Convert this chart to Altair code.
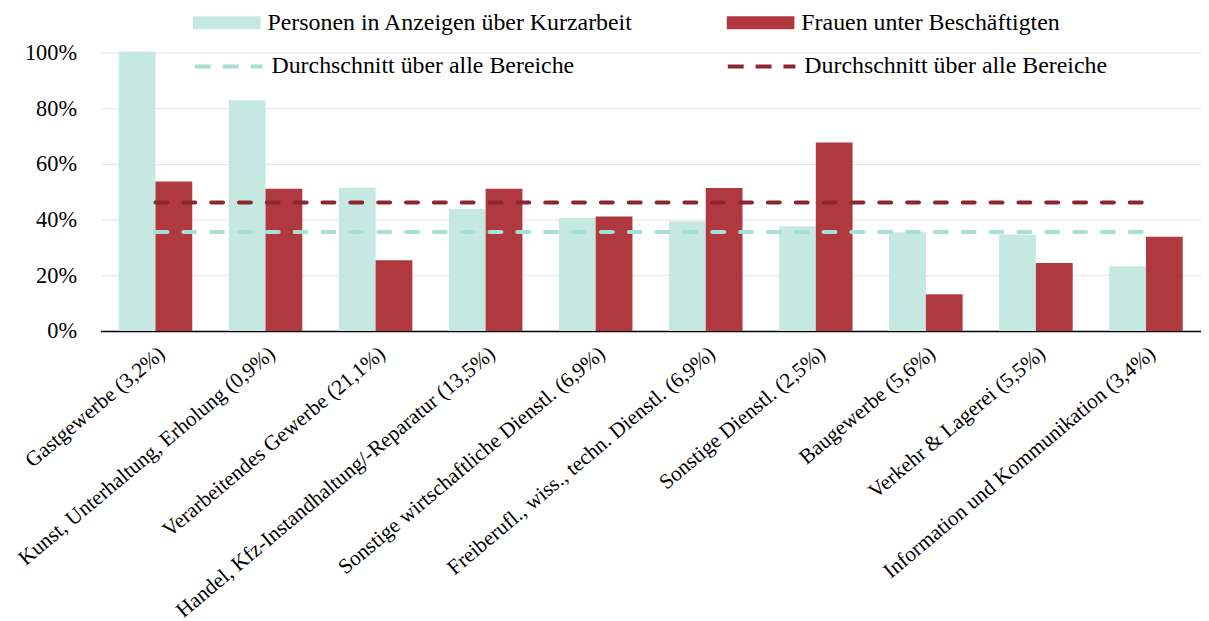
import altair as alt
import pandas as pd

categories = [
    "Gastgewerbe (3,2%)",
    "Kunst, Unterhaltung, Erholung (0,9%)",
    "Verarbeitendes Gewerbe (21,1%)",
    "Handel, Kfz-Instandhaltung/-Reparatur (13,5%)",
    "Sonstige wirtschaftliche Dienstl. (6,9%)",
    "Freiberufl., wiss., techn. Dienstl. (6,9%)",
    "Sonstige Dienstl. (2,5%)",
    "Baugewerbe (5,6%)",
    "Verkehr & Lagerei (5,5%)",
    "Information und Kommunikation (3,4%)",
]
kurzarbeit = [100.4, 82.9, 51.4, 43.8, 40.6, 39.4, 37.6, 35.4, 34.6, 23.2]
frauen = [53.7, 51.1, 25.4, 51.1, 41.1, 51.3, 67.7, 13.2, 24.4, 33.8]
avg_kurzarbeit = 35.5
avg_frauen = 46.1

series_names = ["Personen in Anzeigen über Kurzarbeit", "Frauen unter Beschäftigten"]
avg_keys = ["avg_k", "avg_f"]
bar_colors = ["#c5e8e1", "#b0393f"]
line_colors = ["#a8dfd3", "#8b2630"]

FONT = "Liberation Serif"

rows = []
for c, k, f in zip(categories, kurzarbeit, frauen):
    rows.append({"cat": c, "series": series_names[0], "value": k / 100})
    rows.append({"cat": c, "series": series_names[1], "value": f / 100})
bars_df = pd.DataFrame(rows)

avg_df = pd.DataFrame({
    "key": avg_keys,
    "value": [avg_kurzarbeit / 100, avg_frauen / 100],
    "start": [categories[0]] * 2,
    "end": [categories[-1]] * 2,
})

xscale = alt.Scale(domain=categories, paddingInner=0.332, paddingOuter=0.166)
yscale = alt.Scale(domain=[0, 1], nice=False)

bars = alt.Chart(bars_df).mark_bar().encode(
    x=alt.X("cat:N", scale=xscale, sort=None, title=None,
            axis=alt.Axis(labelAngle=-40, labelAlign="right", labelBaseline="middle",
                          labelFont=FONT, labelFontSize=21.4, labelColor="black",
                          labelPadding=20, labelOffset=7, ticks=False, domainColor="black",
                          domainWidth=1.5, labelLimit=600, grid=False)),
    xOffset=alt.XOffset("series:N", sort=series_names,
                        scale=alt.Scale(domain=series_names, paddingInner=0, paddingOuter=0)),
    y=alt.Y("value:Q", scale=yscale, title=None,
            axis=alt.Axis(values=[0, 0.2, 0.4, 0.6, 0.8, 1.0], format=".0%",
                          labelFont=FONT, labelFontSize=22.5, labelColor="black",
                          labelPadding=24, ticks=False, domain=False,
                          gridColor="#e4e4e4", gridWidth=1)),
    fill=alt.Fill("series:N", sort=series_names,
                  scale=alt.Scale(domain=series_names, range=bar_colors),
                  legend=alt.Legend(title=None, orient="none", legendX=93, legendY=-64,
                                    direction="horizontal",
                                    symbolType="M-1,-0.19H1V0.19H-1Z",
                                    symbolSize=4624, symbolStrokeWidth=0,
                                    labelFont=FONT, labelFontSize=24, labelColor="black",
                                    labelOffset=7, labelLimit=600, columnPadding=94,
                                    padding=0)),
)

lines = alt.Chart(avg_df).mark_rule(strokeWidth=4, strokeDash=[12, 16], strokeCap="round").encode(
    x=alt.X("start:N", scale=xscale, bandPosition=0.5),
    x2=alt.X2("end:N", bandPosition=0.5),
    y=alt.Y("value:Q", scale=yscale),
    stroke=alt.Stroke("key:N", sort=avg_keys,
                      scale=alt.Scale(domain=avg_keys, range=line_colors),
                      legend=alt.Legend(title=None, orient="none", legendX=93, legendY=-22,
                                        direction="horizontal",
                                        symbolType="stroke", symbolSize=4624,
                                        symbolStrokeWidth=4, symbolDash=[16, 12],
                                        labelExpr="'Durchschnitt über alle Bereiche'",
                                        labelFont=FONT, labelFontSize=24, labelColor="black",
                                        labelOffset=7, labelLimit=600, columnPadding=146,
                                        padding=0)),
)

chart = alt.layer(bars, lines).resolve_scale(fill="independent", stroke="independent").properties(
    width=1107,
    height=280,
    autosize=alt.AutoSizeParams(type="none"),
    padding={"left": 93, "top": 43, "right": 0, "bottom": 290},
    background="white",
).configure_view(stroke=None)

chart.save("out.html", embed_options={"renderer": "svg", "actions": False})
